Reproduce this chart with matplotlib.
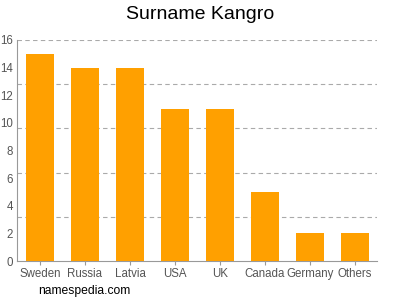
import matplotlib
matplotlib.use("Agg")
import matplotlib.pyplot as plt
import numpy as np

plt.rcParams['font.family'] = ['Liberation Sans', 'DejaVu Sans']

categories = ["Sweden", "Russia", "Latvia", "USA", "UK", "Canada", "Germany", "Others"]
values = [15, 14, 14, 11, 11, 5, 2, 2]
yticks = [0, 2, 4, 6, 8, 10, 12, 14, 16]
gridlines = [3.2, 6.4, 9.6, 12.8, 16]

fig = plt.figure(figsize=(4, 3), dpi=100)
ax = fig.add_axes([0.0425, 0.13, 0.9, 0.7367])
x = np.arange(len(categories))
ax.bar(x, values, width=0.62, color='#ffa000', zorder=3)
for g in gridlines:
    ax.axhline(g, color='#aaaaaa', linestyle=(0, (4, 3)), linewidth=0.8, zorder=1)
ax.set_xlim(-0.51, 7.49)
ax.set_ylim(0, 16)
ax.set_yticks(yticks)
ax.set_xticks(x)
ax.set_xticklabels(categories)
for s in ['top', 'right']:
    ax.spines[s].set_visible(False)
for s in ['left', 'bottom']:
    ax.spines[s].set_color('#999999')
    ax.spines[s].set_linewidth(0.8)
ax.tick_params(axis='y', length=0, labelsize=8.3, labelcolor='#555555', pad=3)
ax.tick_params(axis='x', length=3, color='#999999', labelsize=8.3, labelcolor='#555555', pad=2)
fig.text(0.5, 0.953, "Surname Kangro", ha='center', va='center', fontsize=14, color='#000000')
fig.text(0.095, 0.03, "namespedia.com", ha='left', va='center', fontsize=8.7, color='#000000')
fig.savefig("out.png", dpi=100)
